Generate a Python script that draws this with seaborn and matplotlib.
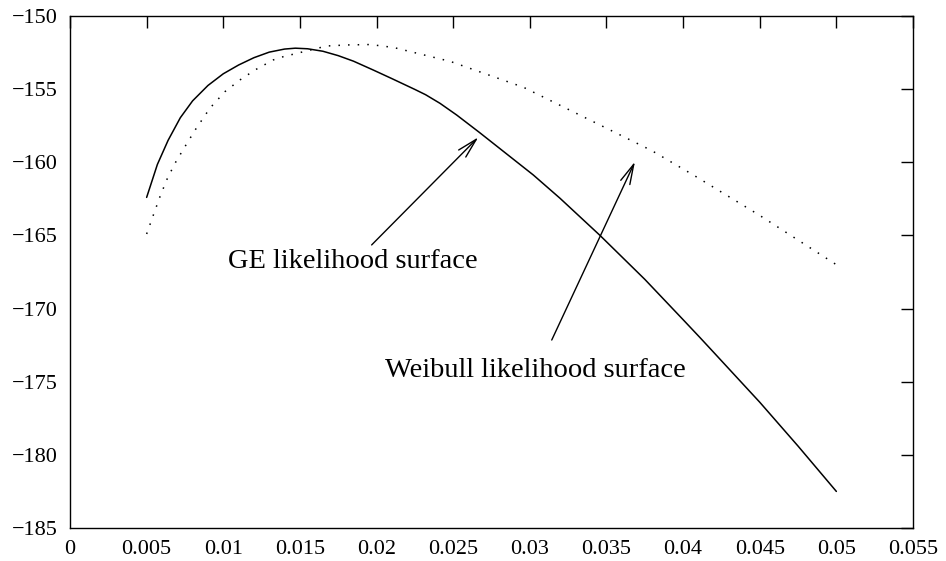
import matplotlib
matplotlib.use("Agg")
import matplotlib.pyplot as plt
import seaborn as sns
import pandas as pd

# ---- data ----
ge_x = [0.005, 0.0057, 0.0064, 0.0072, 0.008, 0.009, 0.01, 0.011, 0.012,
        0.013, 0.014, 0.0147, 0.0155, 0.0165, 0.0175, 0.0185, 0.0198, 0.021,
        0.0225, 0.0232, 0.02414, 0.02523, 0.0267, 0.03023, 0.03197, 0.03458,
        0.0375, 0.04002, 0.0411, 0.04187, 0.045, 0.0475, 0.05]
ge_y = [-162.4, -160.15, -158.5, -156.95, -155.8, -154.75, -153.95, -153.35,
        -152.85, -152.47, -152.26, -152.2, -152.24, -152.41, -152.71, -153.09,
        -153.7, -154.28, -155.02, -155.38, -155.97, -156.77, -157.95, -160.87,
        -162.46, -165.0, -168.0, -170.78, -171.98, -172.85, -176.4, -179.4,
        -182.5]

wb_x = [0.005, 0.00544, 0.00587, 0.00631, 0.00685, 0.0075, 0.00816, 0.00913,
        0.01011, 0.01109, 0.01207, 0.01327, 0.01392, 0.01675, 0.01805, 0.0196,
        0.0211, 0.0248, 0.02958, 0.03502, 0.03795, 0.04067, 0.04495, 0.05]
wb_y = [-164.9, -163.6, -162.35, -161.2, -160.07, -158.93, -157.8, -156.3,
        -155.17, -154.37, -153.69, -153.0, -152.78, -152.05, -151.98, -151.95,
        -152.15, -153.1, -154.87, -157.68, -159.2, -160.87, -163.6, -167.0]

x_ticks = [0, 0.005, 0.01, 0.015, 0.02, 0.025, 0.03, 0.035, 0.04, 0.045, 0.05, 0.055]
x_tick_labels = ["0", "0.005", "0.01", "0.015", "0.02", "0.025", "0.03",
                 "0.035", "0.04", "0.045", "0.05", "0.055"]
y_ticks = [-185, -180, -175, -170, -165, -160, -155, -150]

ge_label = "GE likelihood surface"
wb_label = "Weibull likelihood surface"
ge_text_pos = (0.01031, -167.22)
ge_arrow_from = (0.01968, -165.65)
ge_arrow_to = (0.02664, -158.29)
wb_text_pos = (0.02055, -174.65)
wb_arrow_from = (0.03143, -172.15)
wb_arrow_to = (0.03686, -159.96)

# ---- plotting ----
sns.set_style("white")
plt.rcParams['font.family'] = ['Liberation Serif', 'DejaVu Serif']
plt.rcParams['axes.unicode_minus'] = True

fig = plt.figure(figsize=(9.46, 5.61), dpi=100)
ax = fig.add_axes([70 / 946, 1 - 528 / 561, (913 - 70) / 946, (528 - 16) / 561])

ge_df = pd.DataFrame({"x": ge_x, "y": ge_y})
wb_df = pd.DataFrame({"x": wb_x, "y": wb_y})

sns.lineplot(data=ge_df, x="x", y="y", ax=ax, color="black", lw=1.1,
             estimator=None, sort=False)
sns.lineplot(data=wb_df, x="x", y="y", ax=ax, color="black", lw=1.1,
             estimator=None, sort=False, linestyle=(0, (1, 5.3)))

ax.set_xlim(0, 0.055)
ax.set_ylim(-185, -150)
ax.set_xticks(x_ticks)
ax.set_xticklabels(x_tick_labels)
ax.set_yticks(y_ticks)
ax.set_xlabel("")
ax.set_ylabel("")

ax.tick_params(axis="both", which="major", direction="in", length=8.5, width=1,
               color="black", labelsize=16, labelcolor="black",
               top=True, right=True)
ax.tick_params(axis="x", pad=9)
ax.tick_params(axis="y", pad=9)
for s in ax.spines.values():
    s.set_visible(True)
    s.set_color("black")
    s.set_linewidth(1.0)

arrow_kw = dict(arrowstyle="->,head_length=0.8,head_width=0.2", color="black",
                lw=1.0, mutation_scale=18, shrinkA=0, shrinkB=0)
ax.annotate("", xy=ge_arrow_to, xytext=ge_arrow_from, arrowprops=arrow_kw)
ax.annotate("", xy=wb_arrow_to, xytext=wb_arrow_from, arrowprops=arrow_kw)
ax.text(*ge_text_pos, ge_label, fontsize=20.5, ha="left", va="baseline",
        color="black")
ax.text(*wb_text_pos, wb_label, fontsize=20.5, ha="left", va="baseline",
        color="black")

fig.savefig("out.png", dpi=100)
